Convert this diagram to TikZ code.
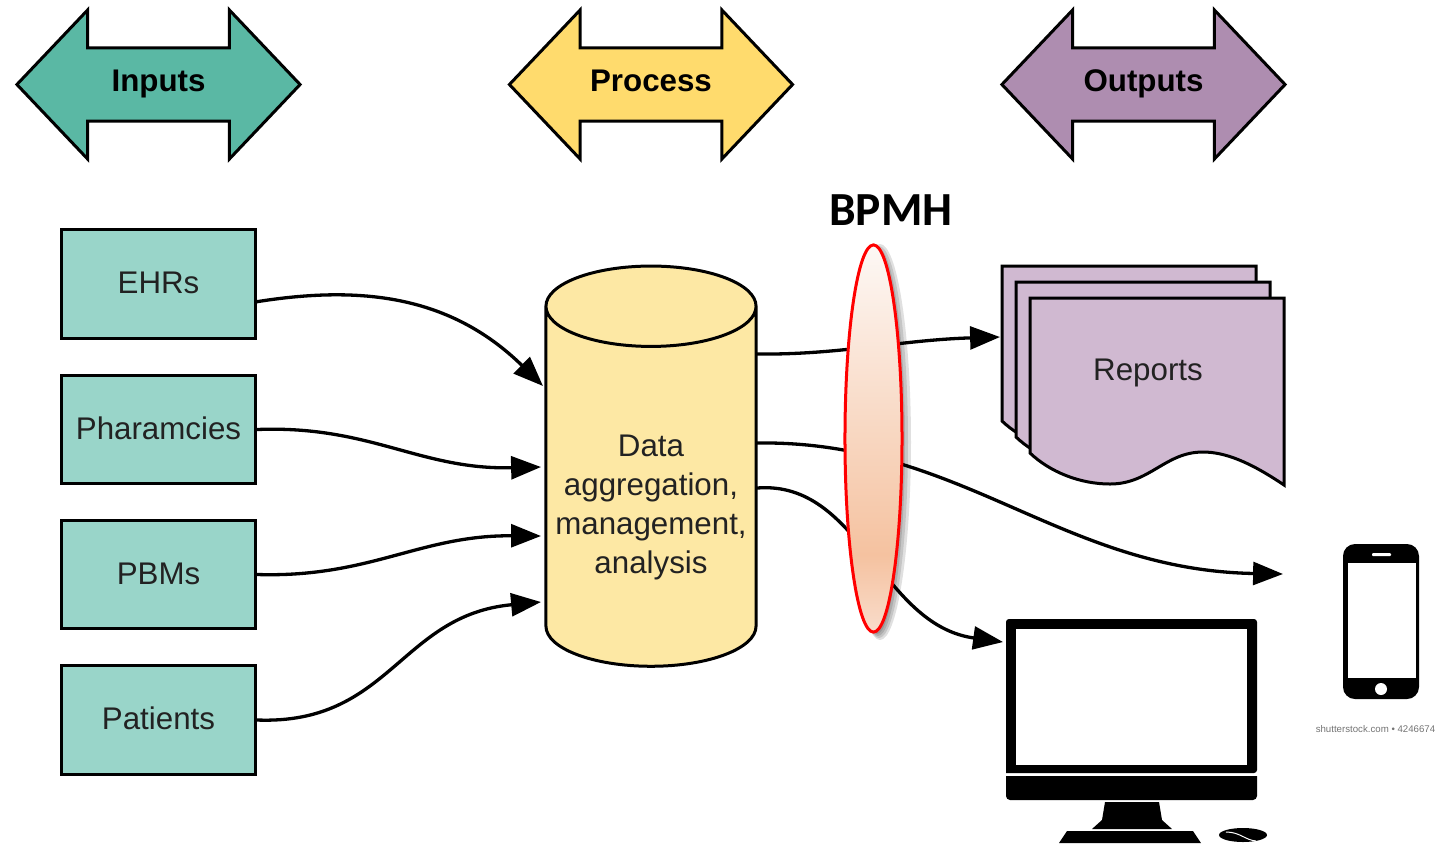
\documentclass[tikz,border=0pt]{standalone}
\usepackage{fontspec}
\setmainfont{Liberation Sans}
\newfontfamily\bpmhfont{Carlito}
\usepackage{xcolor}
\usetikzlibrary{arrows.meta}
\usetikzlibrary{shapes.geometric, shapes.arrows}
\definecolor{inputgreen}{HTML}{5AB8A4}
\definecolor{boxgreen}{HTML}{99D5C9}
\definecolor{processyellow}{HTML}{FFDB6D}
\definecolor{dbyellow}{HTML}{FDE8A4}
\definecolor{outputpurple}{HTML}{AE8DB0}
\definecolor{reportpurple}{HTML}{D0B9D1}
\definecolor{labelgrey}{HTML}{222222}
\definecolor{bpmhlow}{HTML}{F9DCCB}
\definecolor{bpmhdark}{HTML}{F5C2A0}
\definecolor{bpmhtop}{HTML}{FDF8F5}
\pgfdeclareverticalshading{bpmhfade}{100bp}{color(0bp)=(bpmhlow); color(25bp)=(bpmhlow); color(35bp)=(bpmhdark); color(75bp)=(bpmhtop); color(100bp)=(bpmhtop)}
\tikzset{
    headarrow/.style={shape=double arrow, draw=black, line width=0.03cm, minimum height=2.83cm,
        minimum width=1.49cm, double arrow head extend=0.38cm, double arrow tip angle=93,
        inner xsep=0pt, inner ysep=0.195cm, text height=0.22cm, text depth=0.09cm,
        font=\fontsize{8.9}{11}\selectfont\bfseries, text=black},
    srcbox/.style={draw=black, fill=boxgreen, line width=0.03cm, minimum width=1.94cm,
        minimum height=1.08cm, inner sep=0pt, text height=0.22cm, text depth=0.03cm,
        font=\fontsize{8.9}{11}\selectfont, text=labelgrey},
    link/.style={line width=0.033cm, -{Triangle[length=8.5pt,width=6.5pt]}},
    docpage/.style={draw=black, fill=reportpurple, line width=0.03cm},
    lensshadow/.style={fill=black, opacity=0.12},
    blackpart/.style={fill=black, draw=none},
    whitepart/.style={fill=white, draw=none}
}

\begin{document}
\begin{tikzpicture}[x=0.01cm, y=-0.01cm]
    \useasboundingbox (0, 0) rectangle (1435, 844);

    % Header arrows
    \node[headarrow, fill=inputgreen] (inputs) at (158.5, 84.5) {Inputs};
    \node[headarrow, fill=processyellow] (process) at (651, 84.5) {Process};
    \node[headarrow, fill=outputpurple] (outputs) at (1143.5, 84.5) {Outputs};

    % Source boxes
    \node[srcbox] (ehrs) at (158.5, 284) {EHRs};
    \node[srcbox] (pharmacies) at (158.5, 429.5) {Pharamcies};
    \node[srcbox] (pbms) at (158.5, 574.5) {PBMs};
    \node[srcbox] (patients) at (158.5, 720) {Patients};

    % Database
    \node[shape=cylinder, shape border rotate=90, aspect=0.42, draw=black, line width=0.03cm,
        fill=dbyellow, minimum width=2.1cm, minimum height=4cm, inner sep=0pt, align=center,
        font=\fontsize{8.9}{11.1}\selectfont, text=labelgrey] (db) at (651, 487)
        {\mbox{}\\[0.23cm]Data\\aggregation,\\management,\\analysis};

    % Connector ends
    \coordinate (ehrsout) at (255, 302);
    \coordinate (dbinA) at (543, 386);
    \coordinate (dbinB) at (541, 467);
    \coordinate (dbinC) at (541, 536);
    \coordinate (dbinD) at (541, 602);
    \coordinate (dboutA) at (757, 354);
    \coordinate (dboutB) at (757, 443);
    \coordinate (dboutC) at (757, 488);
    \coordinate (reportsin) at (1000, 337);
    \coordinate (phonein) at (1283, 574);
    \coordinate (screenin) at (1003, 642);

    % Connectors to the database
    \draw[link] (ehrsout) .. controls (360, 285) and (450, 295) .. (dbinA);
    \draw[link] (pharmacies.east) .. controls (370, 425) and (420, 470) .. (dbinB);
    \draw[link] (pbms.east) .. controls (370, 578) and (420, 535) .. (dbinC);
    \draw[link] (patients.east) .. controls (390, 725) and (400, 615) .. (dbinD);

    % Connectors out of the database
    \draw[link] (dboutA) .. controls (840, 355) and (900, 340) .. (reportsin);
    \draw[link] (dboutB) .. controls (960, 440) and (1060, 570) .. (phonein);
    \draw[link] (dboutC) .. controls (860, 480) and (880, 625) .. (screenin);

    % Lens over the connectors
    \fill[lensshadow] (880, 442) ellipse (31 and 198);
    \fill[lensshadow] (879, 442) ellipse (29 and 196);
    \fill[lensshadow] (878, 442) ellipse (27 and 194);
    \fill[lensshadow] (877, 442) ellipse (25 and 192);
    \node[shape=ellipse, draw=red, line width=0.03cm, shading=bpmhfade, inner sep=0pt,
        minimum width=0.57cm, minimum height=3.87cm] (lens) at (873.5, 438.5) {};
    \node[font=\fontsize{13.5}{15}\bpmhfont\bfseries] (bpmh) at (891, 210) {BPMH};

    % Reports
    \draw[docpage, shift={(-28, -32)}] (1030, 298) -- (1284, 298) -- (1284, 485)
        .. controls (1250, 462) and (1225, 452) .. (1203, 452)
        .. controls (1165, 452) and (1150, 484) .. (1110, 484)
        .. controls (1080, 484) and (1050, 472) .. (1030, 453) -- cycle;
    \draw[docpage, shift={(-14, -16)}] (1030, 298) -- (1284, 298) -- (1284, 485)
        .. controls (1250, 462) and (1225, 452) .. (1203, 452)
        .. controls (1165, 452) and (1150, 484) .. (1110, 484)
        .. controls (1080, 484) and (1050, 472) .. (1030, 453) -- cycle;
    \draw[docpage] (1030, 298) -- (1284, 298) -- (1284, 485)
        .. controls (1250, 462) and (1225, 452) .. (1203, 452)
        .. controls (1165, 452) and (1150, 484) .. (1110, 484)
        .. controls (1080, 484) and (1050, 472) .. (1030, 453) -- cycle;
    \node[font=\fontsize{8.9}{11}\selectfont, text=labelgrey] (reports) at (1148, 373) {Reports};

    % Phone
    \fill[blackpart, rounded corners=0.12cm] (1343, 544) rectangle (1419, 699);
    \fill[whitepart] (1348, 563) rectangle (1416, 678);
    \fill[whitepart, rounded corners=0.01cm] (1372, 553) rectangle (1391, 556);
    \fill[whitepart] (1381, 689) circle (6);
    \node[font=\fontsize{2.75}{3}\selectfont, text=black!55, inner sep=0pt] (stock) at (1375.5, 729) {shutterstock.com • 4246674};

    % Monitor
    \fill[blackpart, rounded corners=0.03cm] (1006, 773) -- (1006, 619) -- (1257, 619) -- (1257, 773) [sharp corners] -- cycle;
    \fill[whitepart] (1016, 629) rectangle (1247, 765);
    \fill[blackpart] (1006, 776) -- (1257, 776) [rounded corners=0.04cm] -- (1257, 800) -- (1006, 800) [sharp corners] -- cycle;
    \fill[blackpart] (1105, 802) -- (1159, 802) -- (1162, 820) -- (1172, 829) -- (1092, 829) -- (1102, 820) -- cycle;
    \fill[blackpart] (1067, 831) -- (1193, 831) -- (1201, 843) -- (1059, 843) -- cycle;

    % Mouse
    \fill[blackpart] (1243, 835) ellipse (24 and 7);
    \draw[white, line width=0.01cm] (1226, 832) .. controls (1240, 832) and (1245, 840) .. (1256, 841);
\end{tikzpicture}
\end{document}
